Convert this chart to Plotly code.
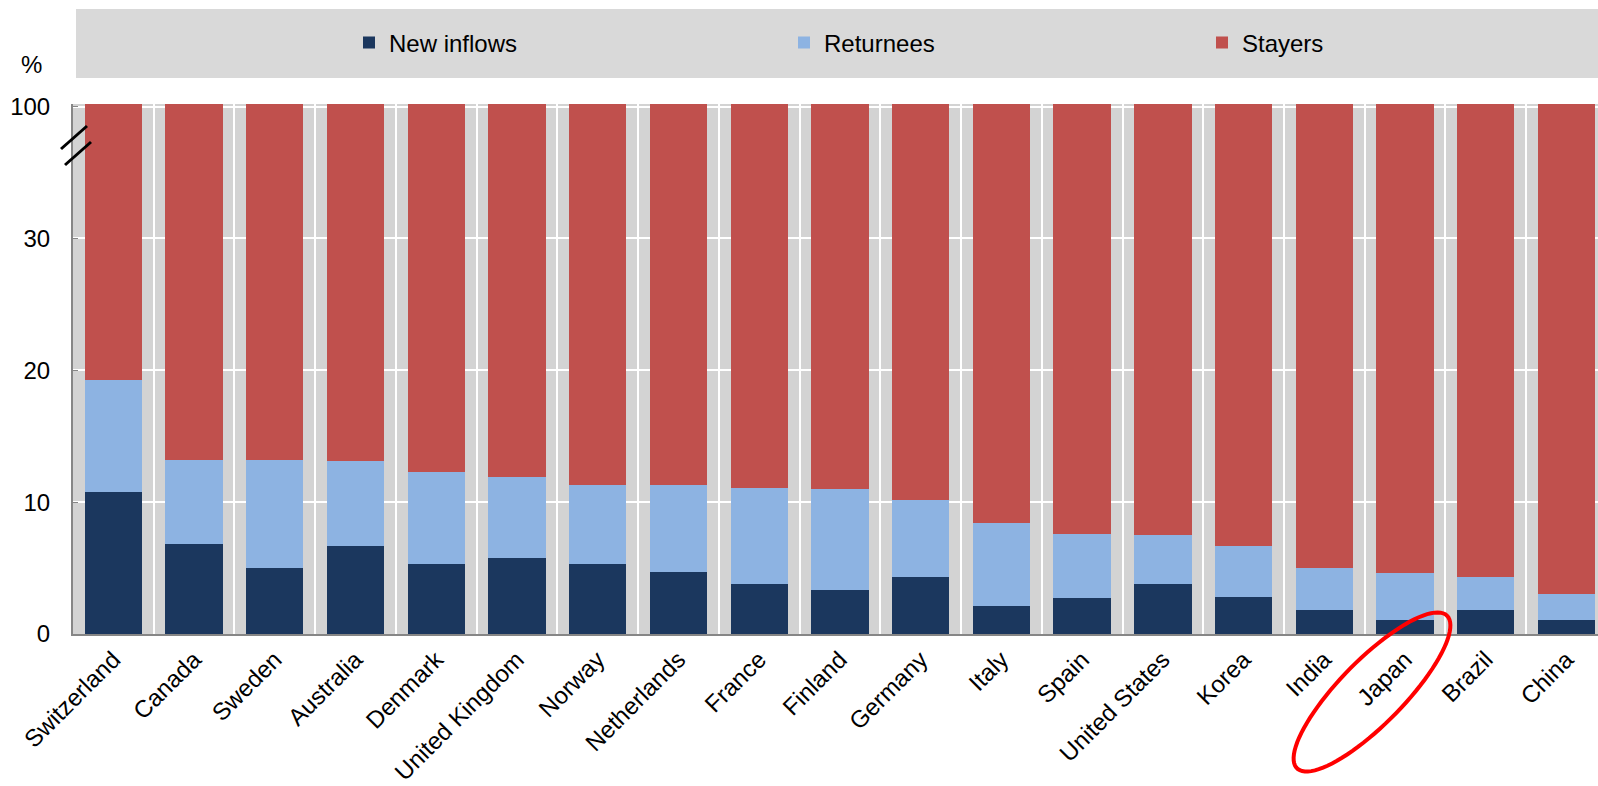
import numpy as np
import plotly.graph_objects as go

countries = ["Switzerland", "Canada", "Sweden", "Australia", "Denmark",
             "United Kingdom", "Norway", "Netherlands", "France", "Finland",
             "Germany", "Italy", "Spain", "United States", "Korea", "India",
             "Japan", "Brazil", "China"]
new_inflows = [10.8, 6.8, 5.0, 6.7, 5.3, 5.8, 5.3, 4.7, 3.8, 3.3,
               4.3, 2.1, 2.7, 3.8, 2.8, 1.8, 1.1, 1.8, 1.1]
returnees = [8.5, 6.4, 8.2, 6.4, 7.0, 6.1, 6.0, 6.6, 7.3, 7.7,
             5.9, 6.3, 4.9, 3.7, 3.9, 3.2, 3.5, 2.5, 1.9]
stayers = [80.7, 86.8, 86.8, 86.9, 87.7, 88.1, 88.7, 88.7, 88.9, 89.0,
           89.8, 91.6, 92.4, 92.5, 93.3, 95.0, 95.4, 95.7, 97.0]

# broken y axis: the top tick sits at 40 but reads 100
y_tickvals = [0, 10, 20, 30, 40]
y_ticktext = ["0", "10", "20", "30", "100"]

W, H = 1598, 786
L, R, T, B = 73, 0, 104, 152
PW, PH = W - L - R, H - T - B

def px2paper(x, y):
    return (x - L) / PW, (H - B - y) / PH

FONT = "Arial, Liberation Sans, sans-serif"

fig = go.Figure()
fig.add_trace(go.Bar(x=countries, y=new_inflows, name="New inflows",
                     marker=dict(color="#1b375e", line=dict(width=0)),
                     legend="legend"))
fig.add_trace(go.Bar(x=countries, y=returnees, name="Returnees",
                     marker=dict(color="#8db3e2", line=dict(width=0)),
                     legend="legend2"))
fig.add_trace(go.Bar(x=countries, y=stayers, name="Stayers",
                     marker=dict(color="#c0504d", line=dict(width=0)),
                     legend="legend3"))

shapes = []
# grey band behind the legend
lx0, ly1 = px2paper(76, 9)
lx1, ly0 = px2paper(1598, 78)
shapes.append(dict(type="rect", xref="paper", yref="paper", x0=lx0, x1=lx1,
                   y0=ly0, y1=ly1, fillcolor="#d9d9d9", line=dict(width=0),
                   layer="below"))
# axis break marks
for (xa, ya, xb, yb) in [(61, 149, 87, 126), (65, 165, 91, 142)]:
    p0 = px2paper(xa, ya)
    p1 = px2paper(xb, yb)
    shapes.append(dict(type="line", xref="paper", yref="paper",
                       x0=p0[0], y0=p0[1], x1=p1[0], y1=p1[1],
                       line=dict(color="black", width=3)))
# red ellipse highlighting Japan
cx, cy, a, b = 1372, 692, 107, 32
ang = np.deg2rad(-45.5)
t = np.linspace(0, 2 * np.pi, 90)
ex = cx + a * np.cos(t) * np.cos(ang) - b * np.sin(t) * np.sin(ang)
ey = cy + a * np.cos(t) * np.sin(ang) + b * np.sin(t) * np.cos(ang)
pts = [px2paper(x, y) for x, y in zip(ex, ey)]
path = "M" + " L".join(f"{p[0]:.5f},{p[1]:.5f}" for p in pts) + " Z"
shapes.append(dict(type="path", xref="paper", yref="paper", path=path,
                   line=dict(color="#ff0000", width=4)))

pct_x, pct_y = px2paper(31, 64)

leg_y = px2paper(0, 43)[1]
def leg(xpix):
    return dict(x=px2paper(xpix, 0)[0], y=leg_y, xanchor="left",
                yanchor="middle", orientation="h", bgcolor="rgba(0,0,0,0)",
                font=dict(family=FONT, size=24, color="black"),
                itemwidth=30, tracegroupgap=0)

fig.update_layout(
    width=W, height=H,
    margin=dict(l=L, r=R, t=T, b=B, pad=0),
    barmode="stack", bargap=0.29,
    plot_bgcolor="#d3d3d3", paper_bgcolor="white",
    font=dict(family=FONT, size=24, color="black"),
    showlegend=True,
    legend=leg(349),
    legend2=leg(784),
    legend3=leg(1202),
    shapes=shapes,
    annotations=[dict(text="%", xref="paper", yref="paper", x=pct_x, y=pct_y,
                      xanchor="center", yanchor="middle", showarrow=False,
                      font=dict(family=FONT, size=24, color="black"))],
    xaxis=dict(type="category", range=[-0.5, 18.39], tickangle=-45,
               tickson="boundaries", showgrid=True, gridcolor="white",
               gridwidth=2, ticks="", showline=True, linecolor="#868686",
               linewidth=2, tickfont=dict(family=FONT, size=24),
               fixedrange=True),
    yaxis=dict(range=[0, 40.2], tickvals=y_tickvals, ticktext=y_ticktext,
               showgrid=True, gridcolor="white", gridwidth=2,
               ticks="inside", ticklen=5, tickcolor="#868686",
               showline=True, linecolor="#868686", linewidth=2,
               zeroline=False, ticklabelstandoff=16,
               tickfont=dict(family=FONT, size=24), fixedrange=True),
)

fig.write_html("out.html")
